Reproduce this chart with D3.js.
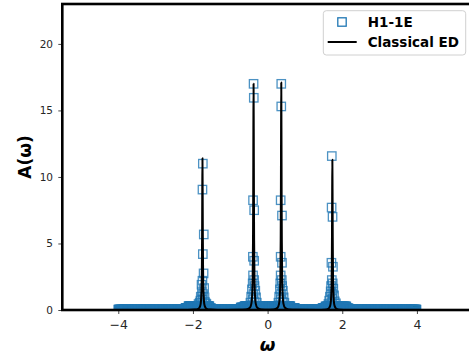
<!DOCTYPE html>
<html>
<head>
<meta charset="utf-8">
<script src="https://cdn.jsdelivr.net/npm/d3@7"></script>
<style>
  html, body { margin: 0; padding: 0; background: #fff; }
  svg { display: block; }
</style>
</head>
<body>
<svg id="chart" width="469" height="360"></svg>
<script>
// ---------------- data ----------------
const xTicks = [-4, -2, 0, 2, 4];
const yTicks = [0, 5, 10, 15, 20];
const seriesNames = ["H1-1E", "Classical ED"];

// Classical ED spectral function: peak positions and line heights at fixed offsets around each peak
const edPeakCenters = [-1.745, -0.376, 0.366, 1.735];
const edProfileOffsets = [-0.4, -0.2, -0.1, -0.06, -0.04, -0.025, -0.015, -0.01, -0.005, 0,
                          0.005, 0.01, 0.015, 0.025, 0.04, 0.06, 0.1, 0.2, 0.4];
const edPeakProfiles = [
  [0.007, 0.029, 0.113, 0.31, 0.67, 1.57, 3.5, 5.7, 9.1, 11.4, 9.1, 5.7, 3.5, 1.57, 0.67, 0.31, 0.113, 0.029, 0.007],
  [0.011, 0.042, 0.168, 0.46, 1.0, 2.35, 5.23, 8.5, 13.6, 17.0, 13.6, 8.5, 5.23, 2.35, 1.0, 0.46, 0.168, 0.042, 0.011],
  [0.011, 0.042, 0.169, 0.46, 1.0, 2.36, 5.26, 8.55, 13.7, 17.1, 13.7, 8.55, 5.26, 2.36, 1.0, 0.46, 0.169, 0.042, 0.011],
  [0.007, 0.028, 0.112, 0.31, 0.66, 1.56, 3.48, 5.65, 9.04, 11.3, 9.04, 5.65, 3.48, 1.56, 0.66, 0.31, 0.112, 0.028, 0.007]
];
const edEnds = [[-4, 0.001], [4, 0.001]];

// H1-1E run: ω spacing of the sampled grid and the low-level band of values along it
const h1Step = 0.01;
const h1BandLevels = [
  // [ω from, ω to, A(ω)]
  [-4.00, -2.20, 0.03],
  [-2.20, -2.12, 0.15],
  [-2.12, -1.55, 0.28],
  [-1.55, -1.50, 0.12],
  [-1.50, -0.72, 0.03],
  [-0.72, -0.62, 0.18],
  [-0.62,  0.62, 0.28],
  [ 0.62,  0.74, 0.15],
  [ 0.74,  1.47, 0.03],
  [ 1.47,  1.55, 0.14],
  [ 1.55,  2.12, 0.26],
  [ 2.12,  2.18, 0.12],
  [ 2.18,  4.00, 0.03]
];

// H1-1E values around each peak, [ω, A(ω)]
const h1PeakLeftOuter = [
  [-1.735, 11.0], [-1.745, 9.05], [-1.71, 5.68], [-1.735, 4.2], [-1.715, 2.75], [-1.745, 2.2],
  [-1.77, 1.9], [-1.70, 1.65], [-1.76, 1.4], [-1.73, 1.2], [-1.79, 1.0], [-1.69, 0.95],
  [-1.75, 0.8], [-1.80, 0.7], [-1.68, 0.6], [-1.82, 0.55], [-1.66, 0.5], [-1.85, 0.45], [-1.64, 0.45]
];
const h1PeakInnerLeft = [
  [-0.376, 17.0], [-0.37, 15.95], [-0.39, 8.25], [-0.36, 7.5], [-0.395, 4.0], [-0.36, 3.7],
  [-0.39, 2.6], [-0.36, 2.25], [-0.40, 2.0], [-0.35, 1.8], [-0.42, 1.55], [-0.33, 1.45],
  [-0.38, 1.2], [-0.44, 1.0], [-0.31, 0.95], [-0.40, 0.8], [-0.35, 0.65], [-0.46, 0.55], [-0.29, 0.55]
];
const h1PeakInnerRight = [
  [0.366, 17.0], [0.366, 15.3], [0.35, 8.25], [0.385, 7.1], [0.35, 4.0], [0.385, 3.55],
  [0.35, 2.6], [0.38, 2.25], [0.34, 2.0], [0.39, 1.8], [0.33, 1.55], [0.41, 1.45],
  [0.36, 1.2], [0.31, 1.0], [0.43, 0.95], [0.35, 0.8], [0.40, 0.65], [0.29, 0.55], [0.45, 0.55]
];
const h1PeakRightOuter = [
  [1.72, 11.57], [1.715, 7.7], [1.74, 7.0], [1.71, 3.55], [1.75, 3.25], [1.72, 2.25],
  [1.745, 2.0], [1.70, 1.8], [1.76, 1.6], [1.69, 1.4], [1.73, 1.25], [1.78, 1.1],
  [1.67, 1.0], [1.74, 0.85], [1.65, 0.7], [1.80, 0.65], [1.71, 0.55], [1.83, 0.5], [1.63, 0.45]
];

// ---------------- build series ----------------
const edLine = [edEnds[0]];
edPeakCenters.forEach((c, i) => {
  edProfileOffsets.forEach((d, j) => edLine.push([c + d, edPeakProfiles[i][j]]));
});
edLine.push(edEnds[1]);

const h1Points = [];
h1BandLevels.forEach(([a, b, v]) => {
  const n = Math.round((b - a) / h1Step);
  for (let k = 0; k < n; k++) h1Points.push([a + k * h1Step, v]);
});
[h1PeakLeftOuter, h1PeakInnerLeft, h1PeakInnerRight, h1PeakRightOuter]
  .forEach(arr => arr.forEach(p => h1Points.push(p)));

// ---------------- chart ----------------
const W = 469, H = 360;
const plot = { left: 62.3, right: 472.9, top: 4, bottom: 310 };
const blue = "#1f77b4";
const markerSide = 8.4;

const svg = d3.select("#chart");
svg.append("rect").attr("width", W).attr("height", H).attr("fill", "#fff");

const x = d3.scaleLinear().domain([-5.5, 5.5]).range([plot.left, plot.right]);
const y = d3.scaleLinear().domain([0, 23]).range([plot.bottom, plot.top]);

svg.append("defs").append("clipPath").attr("id", "plotClip")
  .append("rect")
  .attr("x", plot.left).attr("y", plot.top)
  .attr("width", plot.right - plot.left).attr("height", plot.bottom - plot.top);

const g = svg.append("g").attr("clip-path", "url(#plotClip)");

// H1-1E hollow square markers
g.append("g").selectAll("rect").data(h1Points).join("rect")
  .attr("x", d => x(d[0]) - markerSide / 2)
  .attr("y", d => y(d[1]) - markerSide / 2)
  .attr("width", markerSide).attr("height", markerSide)
  .attr("fill", "none")
  .attr("stroke", blue)
  .attr("stroke-opacity", 0.8)
  .attr("stroke-width", 1.3);

// Classical ED line
g.append("path").datum(edLine)
  .attr("fill", "none")
  .attr("stroke", "#000")
  .attr("stroke-width", 2)
  .attr("stroke-linejoin", "round")
  .attr("d", d3.line().x(d => x(d[0])).y(d => y(d[1])).curve(d3.curveMonotoneX));

// axes
const yAxis = d3.axisLeft(y).tickValues(yTicks).tickSize(4).tickPadding(5.3);
const xAxis = d3.axisBottom(x).tickValues(xTicks).tickSize(4).tickPadding(6.5);

const gy = svg.append("g").attr("transform", `translate(${plot.left},0)`).call(yAxis);
gy.select(".domain").remove();
gy.selectAll(".tick line").attr("stroke", "#333").attr("stroke-width", 0.9);
gy.selectAll(".tick text").attr("fill", "#262626")
  .style("font-family", "'DejaVu Sans', sans-serif").style("font-size", "10.5px");

const gx = svg.append("g").attr("transform", `translate(0,${plot.bottom})`).call(xAxis);
gx.select(".domain").remove();
gx.selectAll(".tick line").attr("stroke", "#333").attr("stroke-width", 0.9);
gx.selectAll(".tick text").attr("fill", "#262626")
  .style("font-family", "'DejaVu Sans', sans-serif").style("font-size", "12.5px");

// spines
const spine = svg.append("g").attr("fill", "none").attr("stroke", "#000").attr("stroke-width", 2.6);
spine.append("rect")
  .attr("x", plot.left).attr("y", plot.top)
  .attr("width", plot.right - plot.left).attr("height", plot.bottom - plot.top);

// axis labels
svg.append("text")
  .attr("transform", `translate(31,${(plot.top + plot.bottom) / 2}) rotate(-90)`)
  .attr("text-anchor", "middle")
  .style("font-family", "'DejaVu Sans', sans-serif")
  .style("font-weight", "bold").style("font-size", "17px")
  .text("A(ω)");

svg.append("text")
  .attr("x", (plot.left + plot.right) / 2).attr("y", 351)
  .attr("text-anchor", "middle")
  .style("font-family", "'DejaVu Sans', sans-serif")
  .style("font-weight", "bold").style("font-style", "italic").style("font-size", "18px")
  .text("ω");

// legend
const lg = svg.append("g");
lg.append("rect")
  .attr("x", 323.3).attr("y", 10.7).attr("width", 142.4).attr("height", 44.3)
  .attr("rx", 3).attr("fill", "#fff").attr("fill-opacity", 0.8)
  .attr("stroke", "#d0d0d0").attr("stroke-width", 1);
lg.append("rect")
  .attr("x", 342 - markerSide / 2).attr("y", 22 - markerSide / 2)
  .attr("width", markerSide).attr("height", markerSide)
  .attr("fill", "none").attr("stroke", blue).attr("stroke-width", 1.3);
lg.append("line")
  .attr("x1", 327.7).attr("x2", 356.7).attr("y1", 42).attr("y2", 42)
  .attr("stroke", "#000").attr("stroke-width", 2);
lg.selectAll("text.lab").data(seriesNames).join("text")
  .attr("class", "lab")
  .attr("x", 367.7).attr("y", (d, i) => 26.8 + i * 20)
  .style("font-family", "'DejaVu Sans', sans-serif")
  .style("font-weight", "bold").style("font-size", "13.5px")
  .attr("fill", "#000")
  .text(d => d);
</script>
</body>
</html>
